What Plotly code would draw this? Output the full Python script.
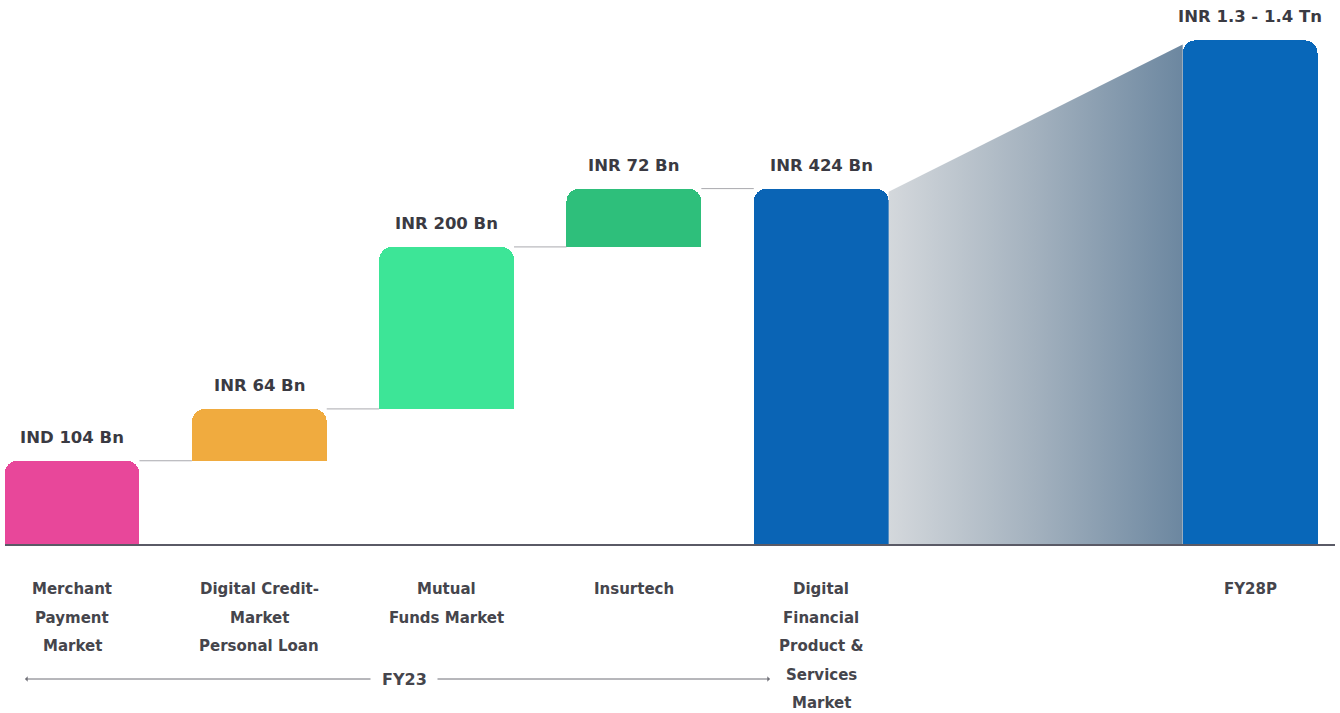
import plotly.graph_objects as go

# ---------------- data ----------------
categories = ["Merchant Payment Market", "Digital Credit-Market Personal Loan",
              "Mutual Funds Market", "Insurtech",
              "Digital Financial Product & Services Market", "FY28P"]
category_lines = [["Merchant", "Payment", "Market"],
                  ["Digital Credit-", "Market", "Personal Loan"],
                  ["Mutual", "Funds Market"],
                  ["Insurtech"],
                  ["Digital", "Financial", "Product &", "Services", "Market"],
                  ["FY28P"]]
step_values = [104, 64, 200, 72]          # INR Bn, FY23 segments
total_label_value = 424                   # INR Bn, FY23 total (as labelled)
fy28_visual_height = 623                  # bar height as drawn (not to scale)
value_labels = ["IND 104 Bn", "INR 64 Bn", "INR 200 Bn", "INR 72 Bn",
                "INR 424 Bn", "INR 1.3 - 1.4 Tn"]
x_pos = [0, 1, 2, 3, 4, 6.29]
colors = ["#E8479A", "#F0AB3F", "#3DE597", "#2EBF7B", "#0A64B5", "#0867B9"]
bracket_label = "FY23"

# ---------------- layout constants ----------------
W, H = 1340, 713
BASE_PX = 545
PX_PER_UNIT = 0.81
X0_PX, SLOT_PX = 72, 187.3
BAR_W = 0.72


def py2y(py):
    return (BASE_PX - py) / PX_PER_UNIT


def px2x(px):
    return (px - X0_PX) / SLOT_PX


bases, heights = [], []
cum = 0
for v in step_values:
    bases.append(cum)
    heights.append(v)
    cum += v
total_height = cum
bases += [0, 0]
heights += [total_height, fy28_visual_height]
tops = [b + h for b, h in zip(bases, heights)]

fig = go.Figure()

# gradient wedge between FY23 total and FY28P
xl = x_pos[4] + BAR_W / 2
xr = x_pos[5] - BAR_W / 2
fig.add_trace(go.Scatter(
    x=[xl, xr, xr, xl, xl],
    y=[tops[4] - 4, tops[5] - 5, 0, 0, tops[4] - 4],
    mode="lines", line=dict(width=0), fill="toself",
    fillgradient=dict(type="horizontal",
                      colorscale=[[0, "#D4D8DC"], [0.5, "#A3B1BE"], [1, "#6C87A0"]]),
    hoverinfo="skip", showlegend=False))

# connectors
for i in range(4):
    fig.add_trace(go.Scatter(
        x=[x_pos[i] + BAR_W / 2, x_pos[i + 1] - BAR_W / 2],
        y=[tops[i], tops[i]], mode="lines",
        line=dict(color="#A9A9AE", width=1),
        hoverinfo="skip", showlegend=False))

# invisible stack bases, then visible bars (rounded only at the top)
fig.add_trace(go.Bar(
    x=x_pos, y=bases, width=BAR_W,
    marker=dict(color="rgba(0,0,0,0)", line=dict(width=0)),
    hoverinfo="skip", showlegend=False))
fig.add_trace(go.Bar(
    x=x_pos, y=heights, width=BAR_W,
    marker=dict(color=colors, line=dict(width=0)),
    hovertext=categories, showlegend=False))

# baseline
fig.add_shape(type="line", xref="x", yref="y",
              x0=px2x(5), x1=px2x(1335), y0=0, y1=0,
              line=dict(color="#5A5A66", width=2))

font_fam = "DejaVu Sans, Verdana, sans-serif"

# value labels
for x, t, lab in zip(x_pos, tops, value_labels):
    fig.add_annotation(x=x, y=t, text=f"<b>{lab}</b>", showarrow=False,
                       yanchor="bottom", yshift=12,
                       font=dict(family=font_fam, size=16.5, color="#3A3A42"))

# category labels
for x, lines in zip(x_pos, category_lines):
    for j, ln in enumerate(lines):
        fig.add_annotation(x=x, y=py2y(589 + 28.5 * j), text=f"<b>{ln}</b>",
                           showarrow=False, yanchor="middle",
                           font=dict(family=font_fam, size=15, color="#45454C"))

# FY23 bracket
yb = py2y(679)
fig.add_annotation(x=px2x(404), y=yb, text=f"<b>{bracket_label}</b>", showarrow=False,
                   yanchor="middle", font=dict(family=font_fam, size=16, color="#45454C"))
fig.add_annotation(x=px2x(25), y=yb, ax=px2x(372), ay=yb, axref="x", ayref="y",
                   text="", showarrow=True, arrowhead=1, arrowsize=0.9,
                   arrowwidth=1, arrowcolor="#6E6E76")
fig.add_annotation(x=px2x(770), y=yb, ax=px2x(436), ay=yb, axref="x", ayref="y",
                   text="", showarrow=True, arrowhead=1, arrowsize=0.9,
                   arrowwidth=1, arrowcolor="#6E6E76")

fig.update_layout(
    width=W, height=H,
    margin=dict(l=0, r=0, t=0, b=0),
    paper_bgcolor="white", plot_bgcolor="white",
    barmode="stack",
    barcornerradius=13,
    xaxis=dict(range=[px2x(0), px2x(W)], visible=False, fixedrange=True),
    yaxis=dict(range=[py2y(H), py2y(0)], visible=False, fixedrange=True),
    showlegend=False,
)

fig.write_html("out.html")
